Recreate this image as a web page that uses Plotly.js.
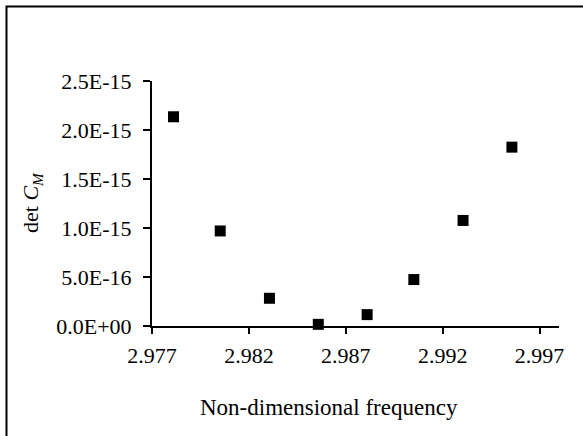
<!DOCTYPE html>
<html>
<head>
<meta charset="utf-8">
<script src="https://cdn.plot.ly/plotly-3.0.1.min.js"></script>
<style>
html,body{margin:0;padding:0;background:#fff;overflow:hidden;}
#chart{width:583px;height:436px;}
</style>
</head>
<body>
<div id="chart"></div>
<script>
// Data
const frequency = [2.97811, 2.98052, 2.98306, 2.98558, 2.98810, 2.99051, 2.99305, 2.99557];
const detCM = [2.135e-15, 9.70e-16, 2.83e-16, 1.7e-17, 1.16e-16, 4.74e-16, 1.077e-15, 1.825e-15];

const xTickVals = [2.977, 2.982, 2.987, 2.992, 2.997];
const xTickText = ["2.977", "2.982", "2.987", "2.992", "2.997"];
const yTickVals = [0, 5e-16, 1e-15, 1.5e-15, 2e-15, 2.5e-15];
const yTickText = ["0.0E+00", "5.0E-16", "1.0E-15", "1.5E-15", "2.0E-15", "2.5E-15"];

const xTitle = "Non-dimensional frequency";
const yTitle = "det <i>C</i><sub><i>M</i></sub>";

const font = {family: "Liberation Serif, Times New Roman, serif", size: 22, color: "#000"};
const titleFont = {family: "Liberation Serif, Times New Roman, serif", size: 23, color: "#000"};

const L = 152, R = 24, T = 81, B = 110;
const W = 583 - L - R, H = 436 - T - B;
function px(x){ return (x - L) / W; }
function py(y){ return (436 - B - y) / H; }

const trace = {
  x: frequency,
  y: detCM,
  type: "scatter",
  mode: "markers",
  marker: {symbol: "square", size: 11, color: "#000"},
  cliponaxis: false,
  hoverinfo: "skip"
};

const layout = {
  width: 583, height: 436,
  margin: {l: L, r: R, t: T, b: B, pad: 0},
  paper_bgcolor: "#fff",
  plot_bgcolor: "#fff",
  showlegend: false,
  font: font,
  xaxis: {
    range: [2.977, 2.998],
    tickvals: xTickVals,
    ticktext: xTickText,
    ticks: "outside", ticklen: 6, tickwidth: 2, tickcolor: "#000",
    showline: true, linewidth: 2, linecolor: "#000",
    showgrid: false, zeroline: false,
    tickfont: font,
    ticklabelstandoff: 3
  },
  yaxis: {
    range: [0, 2.5e-15],
    tickvals: yTickVals,
    ticktext: yTickText,
    ticks: "outside", ticklen: 7, tickwidth: 2, tickcolor: "#000",
    showline: true, linewidth: 2, linecolor: "#000",
    showgrid: false, zeroline: false,
    tickfont: font,
    ticklabelstandoff: 7
  },
  annotations: [
    {text: xTitle, xref: "paper", yref: "paper", x: px(329), y: py(407),
     xanchor: "center", yanchor: "middle", showarrow: false, font: titleFont},
    {text: yTitle, xref: "paper", yref: "paper", x: px(32), y: py(203),
     xanchor: "center", yanchor: "middle", textangle: -90, showarrow: false, font: font}
  ],
  shapes: [
    {type: "rect", xref: "paper", yref: "paper",
     x0: px(6.5), x1: px(640), y0: py(6.5), y1: py(500),
     line: {color: "#000", width: 2}, fillcolor: "rgba(0,0,0,0)", layer: "above"}
  ]
};

Plotly.newPlot("chart", [trace], layout, {displayModeBar: false, staticPlot: true});
</script>
</body>
</html>
